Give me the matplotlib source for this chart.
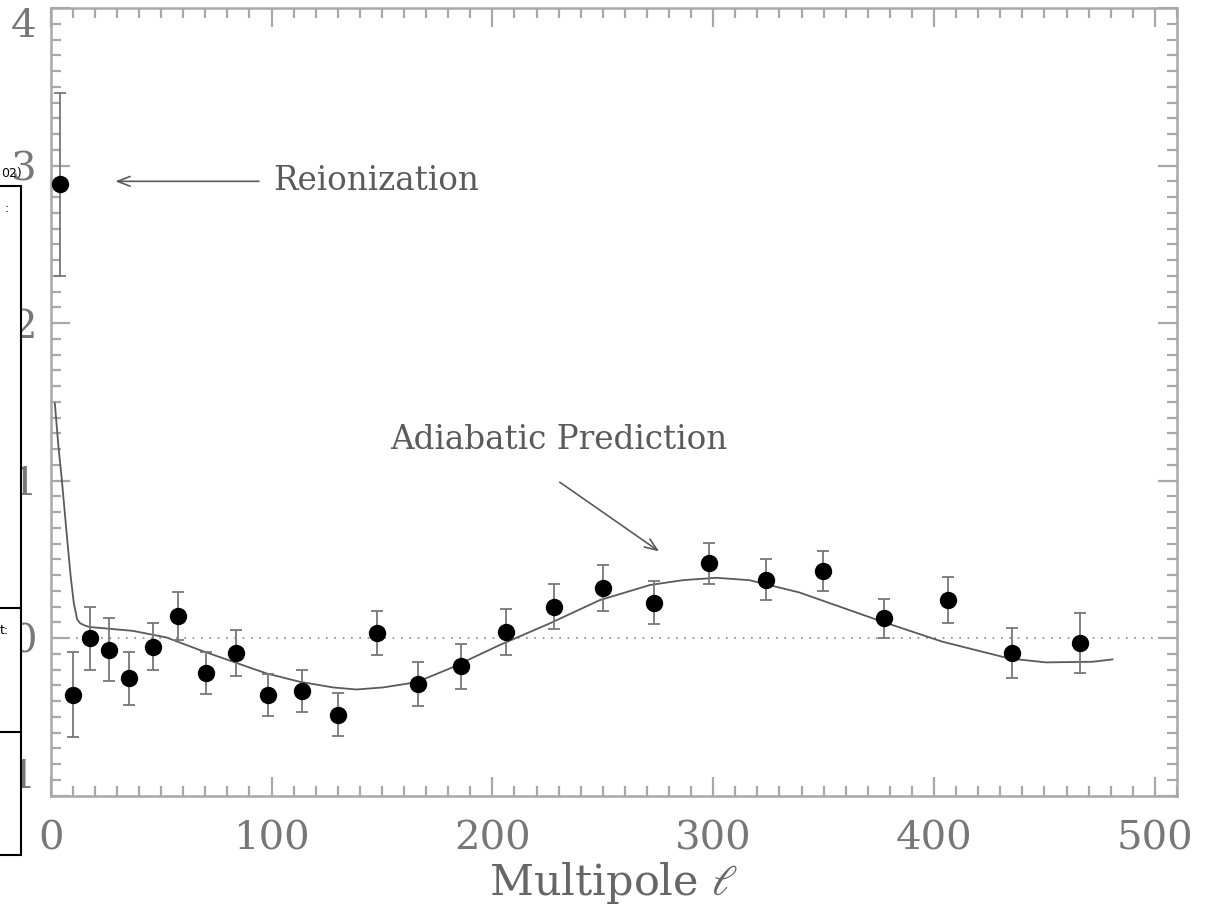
import numpy as np
import matplotlib.pyplot as plt
from matplotlib.patches import Rectangle
from matplotlib.lines import Line2D

# band powers with 1-sigma errors
ell = [4.2, 10.2, 17.8, 26.4, 35.4, 46.4, 57.7, 70.3, 83.7, 98.2, 113.9, 130.1, 147.8,
       166.3, 185.7, 206.0, 227.7, 250.0, 273.4, 298.3, 323.7, 349.9, 377.5, 406.2,
       435.3, 466.0]
power = [2.88, -0.36, 0.00, -0.075, -0.255, -0.055, 0.14, -0.22, -0.095, -0.36, -0.335,
         -0.485, 0.035, -0.29, -0.18, 0.04, 0.20, 0.32, 0.225, 0.475, 0.37, 0.425, 0.125,
         0.24, -0.095, -0.03]
err = [0.58, 0.27, 0.20, 0.20, 0.17, 0.15, 0.15, 0.135, 0.145, 0.135, 0.135, 0.135, 0.14,
       0.14, 0.14, 0.145, 0.145, 0.145, 0.135, 0.13, 0.13, 0.125, 0.125, 0.145, 0.16, 0.19]

# adiabatic model curve
model_ell = [1.9, 3.5, 5.1, 6.5, 7.8, 9.0, 10.5, 12.0, 13.3, 15.5, 17.8, 22.3, 37.3, 52.5,
             67.6, 82.6, 97.7, 112.8, 127.9, 138.5, 150.5, 165.6, 180.7, 203.3, 225.9,
             248.6, 271.3, 286.3, 301.4, 316.4, 339.0, 376.7, 403.9, 434.0, 450.7, 471.8,
             480.8]
model = [1.49, 1.22, 1.00, 0.78, 0.58, 0.40, 0.22, 0.12, 0.095, 0.08, 0.07, 0.065, 0.046,
         0.004, -0.076, -0.15, -0.224, -0.277, -0.313, -0.326, -0.313, -0.28, -0.193,
         -0.044, 0.093, 0.241, 0.337, 0.368, 0.383, 0.368, 0.29, 0.104, -0.023, -0.129,
         -0.154, -0.150, -0.135]

yticks = [-1, 0, 1, 2, 3, 4]
xticks = [0, 100, 200, 300, 400, 500]

grey = '#5a5a5a'
light = '#a8a8a8'
font = 'DejaVu Serif'
plt.rcParams['mathtext.fontset'] = 'dejavuserif'

fig = plt.figure(figsize=(12.09, 9.24), dpi=100)
ax = fig.add_axes([0.0419, 0.1389, 0.9316, 0.8524])

ax.axhline(0, color='#888888', lw=1.2, ls=(0, (1, 4)), zorder=1)
ax.plot(model_ell, model, color=grey, lw=1.3, zorder=2)
ax.errorbar(ell, power, yerr=err, fmt='o', color='black', ms=11.5,
            ecolor='#777777', elinewidth=1.3, capsize=4, capthick=1.3, zorder=3)

ax.set_xlim(0, 510)
ax.set_ylim(-1, 4)

ax.set_xticks(xticks)
ax.set_xticklabels([str(t) for t in xticks])
ax.set_yticks(yticks)
ax.set_yticklabels([str(t) for t in yticks])
ax.set_xticks(np.arange(0, 511, 10), minor=True)
ax.set_yticks(np.arange(-1, 4.01, 0.1), minor=True)

ax.tick_params(which='both', direction='in', top=True, right=True, color=light, width=1.6)
ax.tick_params(which='major', length=14)
ax.tick_params(which='minor', length=7)
ax.tick_params(axis='x', pad=18, labelsize=29, labelcolor='#777777')
ax.tick_params(axis='y', pad=10, labelsize=29, labelcolor='#777777')
for lab in ax.get_xticklabels() + ax.get_yticklabels():
    lab.set_family(font)
ylabs = ax.get_yticklabels()
ylabs[0].set_va('bottom')
ylabs[-1].set_va('top')

for sp in ax.spines.values():
    sp.set_color(light)
    sp.set_linewidth(1.8)

ax.set_xlabel(r'Multipole $\ell$', family=font, fontsize=31, color='#666666', labelpad=2)

ax.annotate('', xy=(28, 2.90), xytext=(95.6, 2.90),
            arrowprops=dict(arrowstyle='->,head_length=0.9,head_width=0.35',
                            color=grey, lw=1.2))
ax.text(100.6, 2.90, 'Reionization', family=font, fontsize=23.5, color=grey,
        ha='left', va='center')

ax.annotate('', xy=(276.6, 0.54), xytext=(229.5, 1.0),
            arrowprops=dict(arrowstyle='->,head_length=0.9,head_width=0.35',
                            color=grey, lw=1.2))
ax.text(230, 1.257, 'Adiabatic Prediction', family=font, fontsize=23.5, color=grey,
        ha='center', va='center')

# neighbouring panel edge at the far left
W, H = 1209, 924
fig.add_artist(Rectangle((-10 / W, 1 - 855 / H), 31 / W, (855 - 186) / H,
                         transform=fig.transFigure, facecolor='white',
                         edgecolor='black', lw=1.5, zorder=5))
for yy in (608, 732):
    fig.add_artist(Line2D([0, 21 / W], [1 - yy / H, 1 - yy / H],
                          transform=fig.transFigure, color='black', lw=1.5, zorder=6))
fig.text(22 / W, 1 - 173 / H, '02)', fontsize=9, ha='right', va='center', zorder=6)
fig.text(5 / W, 1 - 208 / H, ':', fontsize=9, ha='left', va='center', zorder=6)
fig.text(0, 1 - 630 / H, 't:', fontsize=9, ha='left', va='center', zorder=6)

fig.savefig('out.png', dpi=100)
